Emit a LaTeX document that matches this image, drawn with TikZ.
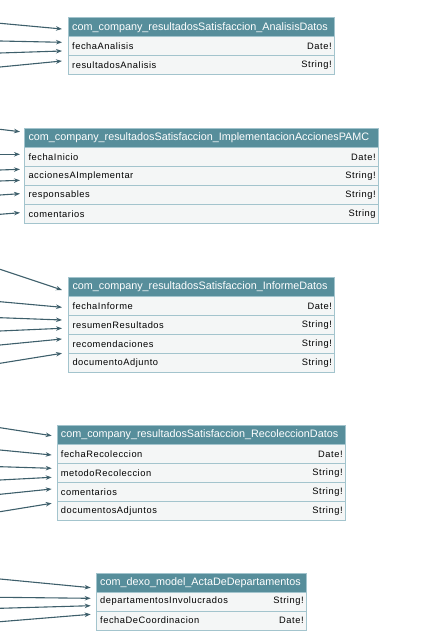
\documentclass[tikz,border=0pt]{standalone}
\usepackage{fontspec}
\setmainfont{Liberation Sans}
\newfontfamily\rowfam[LetterSpace=5.8]{Liberation Sans}
\usetikzlibrary{arrows.meta}
\definecolor{hdrc}{HTML}{578E9B}
\definecolor{rowc}{HTML}{F4F6F6}
\definecolor{bordc}{HTML}{A3C4CD}
\definecolor{arrc}{HTML}{3E5F6B}
\newcommand\hfnt{\fontsize{10.8pt}{13pt}\selectfont}
\newcommand\rfnt{\rowfam\fontsize{9.3pt}{11pt}\selectfont}
\tikzset{
  hdr/.style={draw=bordc, fill=hdrc, line width=0.8pt, minimum height=19pt, inner sep=0pt, anchor=north west},
  rowbox/.style={draw=bordc, fill=rowc, line width=0.8pt, minimum height=19pt, inner sep=0pt, anchor=north west},
  hdrtext/.style={text=white, font=\hfnt, anchor=west, inner sep=0pt},
  fld/.style={font=\rfnt, anchor=west, inner sep=0pt, text=black},
  typ/.style={font=\rfnt, anchor=east, inner sep=0pt, text=black},
  conn/.style={draw=arrc, line width=1.1pt, -{Stealth[length=6pt,width=4.5pt]}}
}
\newcommand\hd[5]{%
  \node[hdr, minimum width=#4pt] (#1) at (#2,#3) {};
  \node[hdrtext] (#1t) at ([xshift=4pt]#1.west) {#5};}
\newcommand\rw[6]{%
  \node[rowbox, minimum width=#4pt] (#1) at (#2,#3) {};
  \node[fld] (#1f) at ([xshift=4pt]#1.west) {#5};
  \node[typ] (#1y) at ([xshift=-3pt]#1.east) {#6};}
\begin{document}
\begin{tikzpicture}[x=1pt,y=-1pt]
\useasboundingbox (0,0) rectangle (433,644);
\clip (0,0) rectangle (433,644);
% Box 1
\hd{a}{68}{17.5}{266}{com\_company\_resultadosSatisfaccion\_AnalisisDatos}
\rw{a1}{68}{36.5}{266}{fechaAnalisis}{Date!}
\rw{a2}{68}{55.5}{266}{resultadosAnalisis}{String!}
% Box 2
\hd{b}{24.3}{128}{353.7}{com\_company\_resultadosSatisfaccion\_ImplementacionAccionesPAMC}
\rw{b1}{24.3}{147}{353.7}{fechaInicio}{Date!}
\rw{b2}{24.3}{166}{353.7}{accionesAImplementar}{String!}
\rw{b3}{24.3}{185}{353.7}{responsables}{String!}
\rw{b4}{24.3}{204}{353.7}{comentarios}{String}
% Box 3
\hd{c}{68.3}{277}{266}{com\_company\_resultadosSatisfaccion\_InformeDatos}
\rw{c1}{68.3}{296}{266}{fechaInforme}{Date!}
\rw{c2}{68.3}{315}{266}{resumenResultados}{String!}
\rw{c3}{68.3}{334}{266}{recomendaciones}{String!}
\rw{c4}{68.3}{353}{266}{documentoAdjunto}{String!}
% Box 4
\hd{d}{56.7}{425}{288.3}{com\_company\_resultadosSatisfaccion\_RecoleccionDatos}
\rw{d1}{56.7}{444}{288.3}{fechaRecoleccion}{Date!}
\rw{d2}{56.7}{463}{288.3}{metodoRecoleccion}{String!}
\rw{d3}{56.7}{482}{288.3}{comentarios}{String!}
\rw{d4}{56.7}{501}{288.3}{documentosAdjuntos}{String!}
% Box 5
\hd{e}{96}{572.5}{210}{com\_dexo\_model\_ActaDeDepartamentos}
\rw{e1}{96}{591.5}{210}{departamentosInvolucrados}{String!}
\rw{e2}{96}{610.5}{210}{fechaDeCoordinacion}{Date!}
% Connectors, box 1
\coordinate (sa1) at (0,23.3);  \coordinate (ta1) at (62,29);
\coordinate (sa2) at (0,41);    \coordinate (ta2) at (62,42.3);
\coordinate (sa3) at (0,53);    \coordinate (ta3) at (62,51);
\coordinate (sa4) at (0,67);    \coordinate (ta4) at (62,61);
% box 2
\coordinate (sb1) at (0,129.3); \coordinate (tb1) at (20,131.7);
\coordinate (sb2) at (0,154.3); \coordinate (tb2) at (20,154.3);
\coordinate (sb3) at (0,170);   \coordinate (tb3) at (20,169.3);
\coordinate (sb4) at (0,181);   \coordinate (tb4) at (20,180.3);
\coordinate (sb5) at (0,195);   \coordinate (tb5) at (20,193.7);
\coordinate (sb6) at (0,214.3); \coordinate (tb6) at (20,212.7);
% box 3
\coordinate (sc1) at (0,269.3); \coordinate (tc1) at (62,290);
\coordinate (sc2) at (0,301.7); \coordinate (tc2) at (62,307.3);
\coordinate (sc3) at (0,317.7); \coordinate (tc3) at (62,320);
\coordinate (sc4) at (0,331);   \coordinate (tc4) at (62,328.3);
\coordinate (sc5) at (0,345);   \coordinate (tc5) at (62,339);
\coordinate (sc6) at (0,363.3); \coordinate (tc6) at (62,353.3);
% box 4
\coordinate (sd1) at (0,427.7); \coordinate (td1) at (51.7,435.7);
\coordinate (sd2) at (0,450);   \coordinate (td2) at (51.7,455);
\coordinate (sd3) at (0,466.7); \coordinate (td3) at (51.7,468.3);
\coordinate (sd4) at (0,480);   \coordinate (td4) at (51.7,477.3);
\coordinate (sd5) at (0,494.3); \coordinate (td5) at (51.7,489);
\coordinate (sd6) at (0,511.7); \coordinate (td6) at (51.7,503.3);
% box 5
\coordinate (se1) at (0,579);   \coordinate (te1) at (90.7,587.7);
\coordinate (se2) at (0,597.3); \coordinate (te2) at (90.7,598.3);
\coordinate (se3) at (0,608.3); \coordinate (te3) at (90.7,605.7);
\coordinate (se4) at (0,621.7); \coordinate (te4) at (90.7,614.3);
\foreach \n in {a1,a2,a3,a4,b1,b2,b3,b4,b5,b6,c1,c2,c3,c4,c5,c6,d1,d2,d3,d4,d5,d6,e1,e2,e3,e4}
  \draw[conn] (s\n) -- (t\n);
\end{tikzpicture}
\end{document}
